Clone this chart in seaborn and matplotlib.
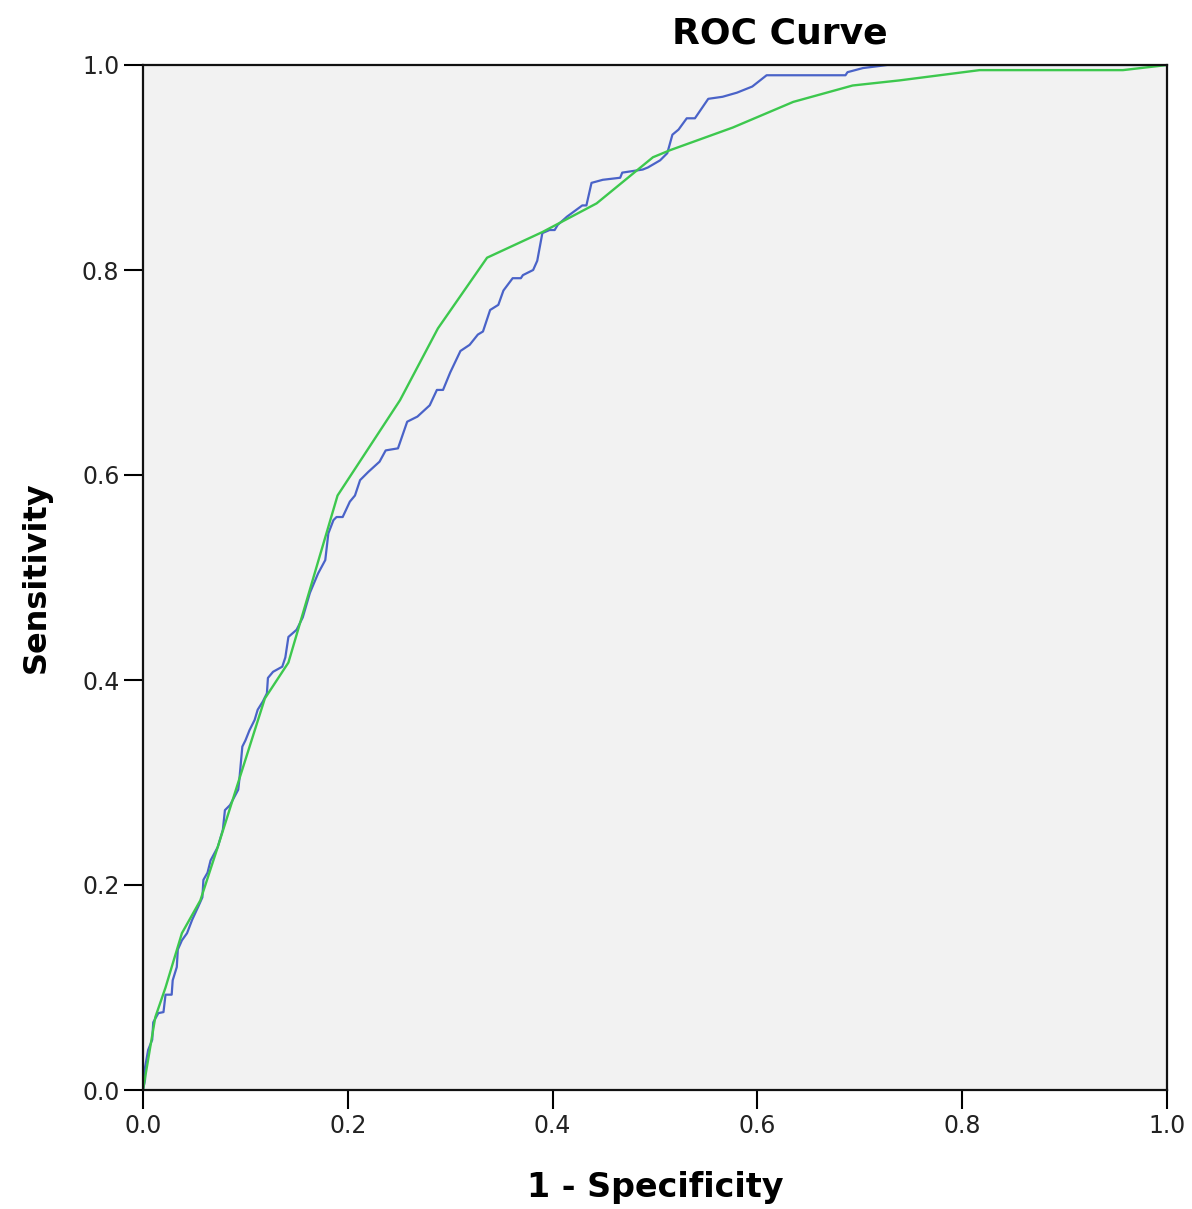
import numpy as np
import pandas as pd
import matplotlib
matplotlib.use("Agg")
import matplotlib.pyplot as plt
import seaborn as sns

# ---- data ----
# blue: empirical ROC (step-like)
blue_fpr = [
    0.000, 0.002, 0.002, 0.005, 0.009, 0.010, 0.015, 0.020, 0.022, 0.028,
    0.029, 0.033, 0.034, 0.038, 0.043, 0.048, 0.054, 0.058, 0.059, 0.063,
    0.066, 0.073, 0.078, 0.080, 0.085, 0.093, 0.094, 0.097, 0.100, 0.104,
    0.109, 0.112, 0.117, 0.121, 0.122, 0.127, 0.136, 0.139, 0.142, 0.150,
    0.156, 0.163, 0.171, 0.178, 0.181, 0.186, 0.189, 0.195, 0.202, 0.207,
    0.212, 0.220, 0.231, 0.237, 0.249, 0.258, 0.268, 0.280, 0.287, 0.293,
    0.300, 0.310, 0.319, 0.327, 0.332, 0.339, 0.347, 0.352, 0.361, 0.369,
    0.371, 0.381, 0.385, 0.390, 0.397, 0.402, 0.405, 0.414, 0.429, 0.433,
    0.438, 0.449, 0.466, 0.468, 0.488, 0.493, 0.505, 0.512, 0.517, 0.523,
    0.531, 0.539, 0.552, 0.566, 0.580, 0.595, 0.609, 0.686, 0.688, 0.703,
    0.727, 1.000,
]
blue_tpr = [
    0.000, 0.010, 0.022, 0.039, 0.049, 0.066, 0.075, 0.076, 0.093, 0.093,
    0.107, 0.120, 0.137, 0.146, 0.153, 0.166, 0.179, 0.188, 0.205, 0.212,
    0.224, 0.237, 0.254, 0.273, 0.278, 0.293, 0.302, 0.335, 0.341, 0.351,
    0.361, 0.371, 0.379, 0.387, 0.402, 0.408, 0.413, 0.422, 0.442, 0.449,
    0.461, 0.485, 0.504, 0.517, 0.543, 0.556, 0.559, 0.559, 0.574, 0.580,
    0.595, 0.603, 0.613, 0.624, 0.626, 0.652, 0.657, 0.668, 0.683, 0.683,
    0.700, 0.721, 0.727, 0.737, 0.740, 0.761, 0.766, 0.780, 0.792, 0.792,
    0.795, 0.800, 0.809, 0.836, 0.839, 0.839, 0.844, 0.852, 0.863, 0.863,
    0.885, 0.888, 0.890, 0.895, 0.898, 0.900, 0.907, 0.914, 0.932, 0.937,
    0.948, 0.948, 0.967, 0.969, 0.973, 0.979, 0.990, 0.990, 0.993, 0.997,
    1.000, 1.000,
]

# green: smoother ROC
green_fpr = [0.000, 0.012, 0.022, 0.038, 0.056, 0.072, 0.119, 0.142, 0.190,
             0.251, 0.288, 0.336, 0.390, 0.443, 0.498, 0.515, 0.576, 0.635,
             0.693, 0.739, 0.817, 0.957, 1.000]
green_tpr = [0.000, 0.071, 0.100, 0.153, 0.185, 0.234, 0.382, 0.417, 0.580,
             0.673, 0.743, 0.812, 0.837, 0.865, 0.910, 0.917, 0.939, 0.964,
             0.980, 0.985, 0.995, 0.995, 1.000]

x_ticks = [0.0, 0.2, 0.4, 0.6, 0.8, 1.0]
y_ticks = [0.0, 0.2, 0.4, 0.6, 0.8, 1.0]

# ---- style ----
sns.set_theme(style="ticks")
plt.rcParams['font.family'] = ['DejaVu Sans']
plt.rcParams['text.color'] = 'black'
plt.rcParams['axes.labelcolor'] = 'black'

blue_df = pd.DataFrame({"fpr": blue_fpr, "tpr": blue_tpr})
green_df = pd.DataFrame({"fpr": green_fpr, "tpr": green_tpr})

fig = plt.figure(figsize=(11.92, 12.09), dpi=100)
ax = fig.add_axes([143 / 1192, 1 - 1090 / 1209, 1024 / 1192, 1025 / 1209])
ax.set_facecolor("#F2F2F2")

sns.lineplot(data=blue_df, x="fpr", y="tpr", sort=False, estimator=None,
             color="#4A63C8", linewidth=1.6, ax=ax)
sns.lineplot(data=green_df, x="fpr", y="tpr", sort=False, estimator=None,
             color="#3DC84E", linewidth=1.7, ax=ax)

ax.set_xlim(0, 1)
ax.set_ylim(0, 1)
ax.set_xticks(x_ticks)
ax.set_yticks(y_ticks)
ax.set_xticklabels([f"{t:.1f}" for t in x_ticks])
ax.set_yticklabels([f"{t:.1f}" for t in y_ticks])
ax.tick_params(axis="both", direction="out", length=14, width=1.5,
               labelsize=17, colors="black", labelcolor="#222222", pad=3)

for s in ax.spines.values():
    s.set_visible(True)
    s.set_color("#111111")
    s.set_linewidth(1.6)

ax.set_xlabel("1 - Specificity", fontsize=24, fontweight="bold", labelpad=24)
ax.set_ylabel("Sensitivity", fontsize=23, fontweight="bold", labelpad=22)
fig.text(780 / 1192, 1 - 33 / 1209, "ROC Curve", ha="center", va="center",
         fontsize=26, fontweight="bold")

fig.savefig("out.png", dpi=100)
